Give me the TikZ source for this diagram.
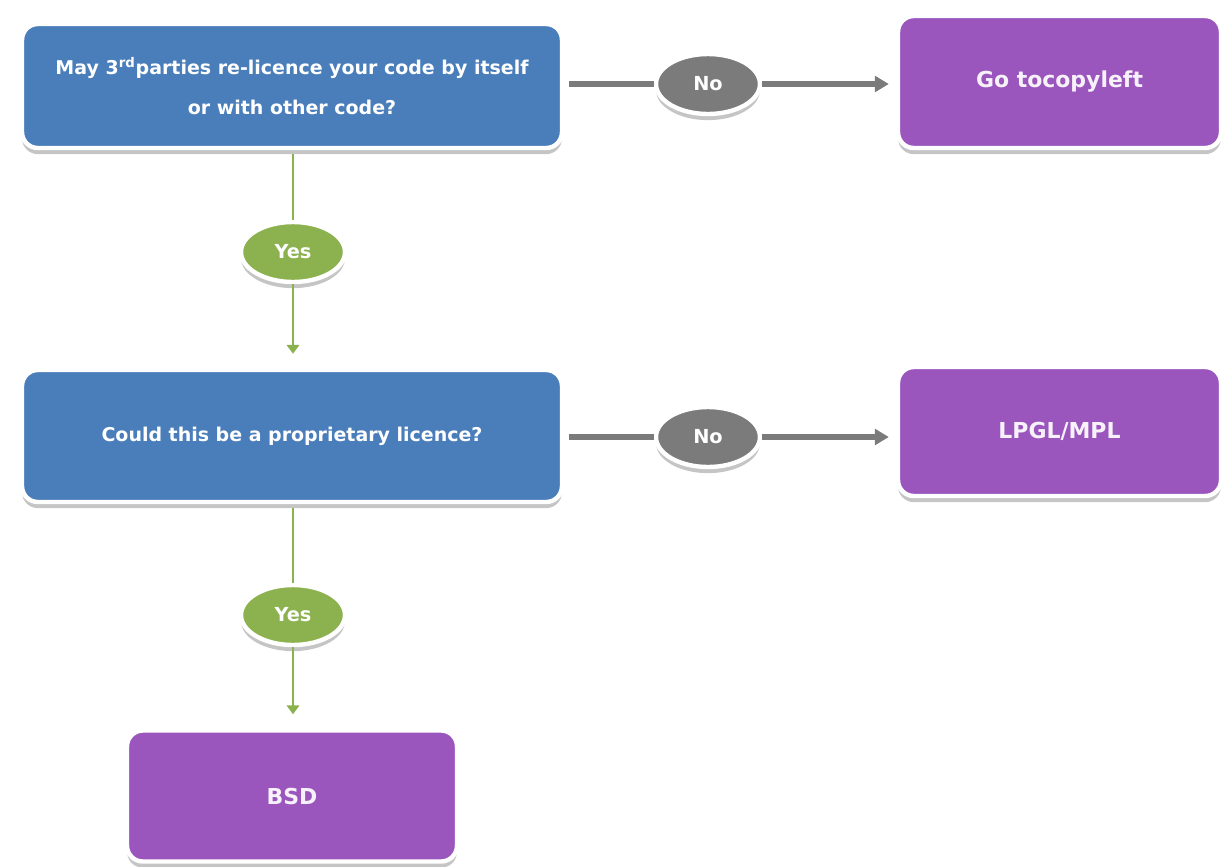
\documentclass[tikz,border=0pt]{standalone}
\usepackage{fontspec}
\setmainfont{DejaVu Sans}
\usetikzlibrary{shapes.geometric,arrows.meta,shadows}
\definecolor{qblue}{HTML}{4A7EBB}
\definecolor{rpurple}{HTML}{9B56BE}
\definecolor{nogray}{HTML}{7B7B7B}
\definecolor{yesgreen}{HTML}{8CB24F}
\tikzset{
  base/.style={draw=white, line width=2.5pt, text=white, font=\bfseries, align=center, inner sep=0pt,
    drop shadow={shadow xshift=0pt, shadow yshift=-3.5pt, opacity=0.5, fill=gray!90}},
  question/.style={base, rounded corners=9pt, fill=qblue},
  result/.style={base, rounded corners=9pt, fill=rpurple, text=white!92!rpurple},
  nolbl/.style={base, ellipse, fill=nogray, minimum width=2.08cm, minimum height=1.2cm, font=\bfseries\fontsize{11}{12}\selectfont},
  yeslbl/.style={base, ellipse, fill=yesgreen, minimum width=2.08cm, minimum height=1.2cm, font=\bfseries\fontsize{11}{12}\selectfont},
  noline/.style={draw=nogray, line width=3pt},
  yesline/.style={draw=yesgreen, line width=1.3pt},
}
\begin{document}
\begin{tikzpicture}[x=0.02cm, y=-0.02cm]
\useasboundingbox (0,0) rectangle (1221,866);
\node[question, minimum width=10.8cm, minimum height=2.48cm, font=\bfseries\fontsize{10.8}{23}\selectfont] (q1) at (292,86)
  {May 3\textsuperscript{rd}parties re-licence your code by itself\\or with other code?};
\node[result, minimum width=6.46cm, minimum height=2.64cm, font=\bfseries\fontsize{12.5}{14}\selectfont] (go) at (1059.5,82) {Go tocopyleft};
\node[question, minimum width=10.8cm, minimum height=2.64cm, font=\bfseries\fontsize{10.8}{12}\selectfont] (q2) at (292,436) {Could this be a proprietary licence?};
\node[result, minimum width=6.46cm, minimum height=2.58cm, font=\bfseries\fontsize{12.5}{14}\selectfont] (lp) at (1059.5,431.5) {LPGL/MPL};
\node[result, minimum width=6.6cm, minimum height=2.62cm, font=\bfseries\fontsize{12.5}{14}\selectfont] (bsd) at (292,796) {BSD};
\node[nolbl] (no1) at (708,84) {No};
\node[nolbl] (no2) at (708,437) {No};
\node[yeslbl] (yes1) at (293,252) {Yes};
\node[yeslbl] (yes2) at (293,615) {Yes};
% connectors
\draw[noline, shorten <=3pt] (q1.east |- no1) -- (no1);
\draw[noline, -{Triangle[length=8pt,width=9pt]}, shorten >=4pt] (no1) -- (go.west |- no1);
\draw[noline, shorten <=3pt] (q2.east |- no2) -- (no2);
\draw[noline, -{Triangle[length=8pt,width=9pt]}, shorten >=4pt] (no2) -- (lp.west |- no2);
\draw[yesline, shorten <=2pt] (q1.south -| yes1) -- (yes1);
\draw[yesline, -{Triangle[length=5pt,width=7pt]}, shorten >=8pt] (yes1) -- (q2.north -| yes1);
\draw[yesline, shorten <=2pt] (q2.south -| yes2) -- (yes2);
\draw[yesline, -{Triangle[length=5pt,width=7pt]}, shorten >=8pt] (yes2) -- (bsd.north -| yes2);
\end{tikzpicture}
\end{document}
